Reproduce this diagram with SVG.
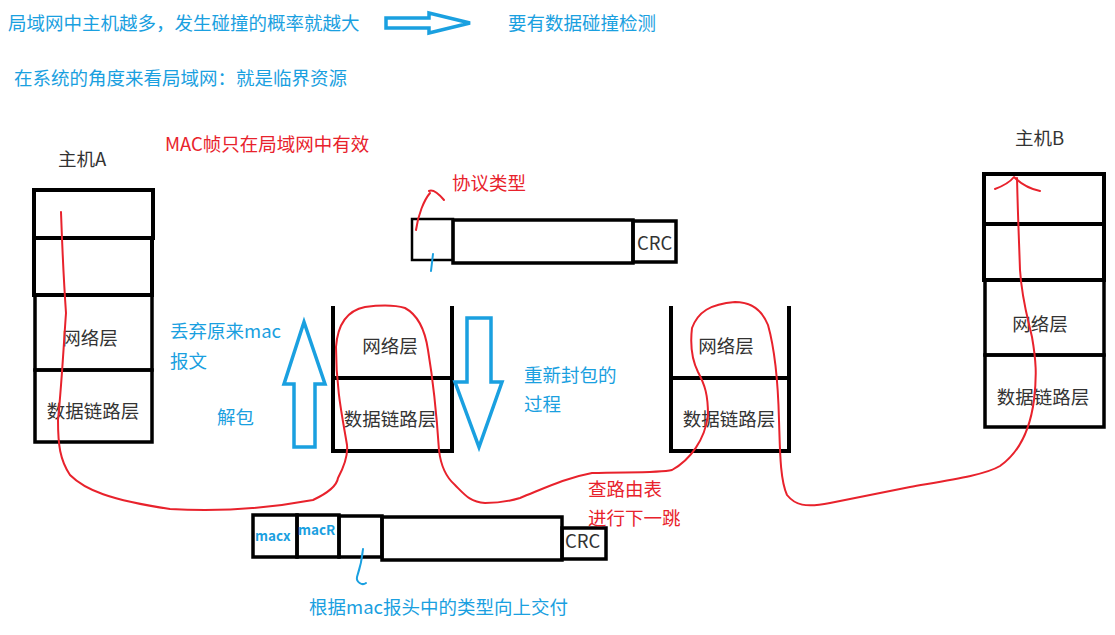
<svg xmlns="http://www.w3.org/2000/svg" width="1115" height="635" viewBox="0 0 1115 635">
  <style>
    text { font-family: "Microsoft YaHei", "Noto Sans CJK SC", "Noto Sans", sans-serif; font-size: 18.5px; }
    .blue { fill: #1aa0e0; }
    .red { fill: #e8222c; }
    .dark { fill: #333333; }
    .mid { text-anchor: middle; }
    .box { fill: none; stroke: #000; stroke-width: 4; }
    .boxthin { fill: none; stroke: #000; stroke-width: 3.5; }
    .hollow { fill: none; stroke: #1aa0e0; stroke-width: 3.5; stroke-linejoin: miter; }
    .path { fill: none; stroke: #e8222c; stroke-width: 2; stroke-linecap: round; stroke-linejoin: round; }
    .tick { fill: none; stroke: #1aa0e0; stroke-width: 2; stroke-linecap: round; }
    .small { font-size: 13.5px; font-weight: 600; }
  </style>

  <!-- notes at the top -->
  <g id="notes">
    <text class="blue" x="8" y="30">局域网中主机越多，发生碰撞的概率就越大</text>
    <text class="blue" x="508" y="30">要有数据碰撞检测</text>
    <text class="blue" x="14" y="85">在系统的角度来看局域网：就是临界资源</text>
    <text class="red" x="165" y="151" font-size="19.5">MAC帧只在局域网中有效</text>
    <polygon class="hollow" points="386,18 429,18 429,13 470,23 429,33 429,28 386,28" stroke-width="3"/>
  </g>

  <!-- host A stack -->
  <g id="hostA">
    <text class="dark" x="58" y="166" font-size="17.5">主机A</text>
    <rect class="box" x="34" y="190" width="119" height="48" stroke-width="5"/>
    <rect class="box" x="34" y="238" width="118" height="57" stroke-width="5"/>
    <rect class="boxthin" x="35" y="295" width="117" height="75"/>
    <rect class="boxthin" x="35" y="370" width="117" height="72"/>
    <text class="dark mid" x="90" y="345">网络层</text>
    <text class="dark mid" x="93" y="418">数据链路层</text>
  </g>

  <!-- router 1 -->
  <g id="router1">
    <polyline class="box" points="333,306 333,451 452,451 452,306"/>
    <line class="box" x1="333" y1="378" x2="452" y2="378"/>
    <text class="dark mid" x="390" y="353">网络层</text>
    <text class="dark mid" x="390" y="426">数据链路层</text>
  </g>

  <!-- router 2 -->
  <g id="router2">
    <polyline class="box" points="671,306 671,451 789,451 789,306"/>
    <line class="box" x1="671" y1="378" x2="789" y2="378"/>
    <text class="dark mid" x="726" y="353">网络层</text>
    <text class="dark mid" x="729" y="426">数据链路层</text>
  </g>

  <!-- host B stack -->
  <g id="hostB">
    <text class="dark" x="1015" y="145" font-size="17.5">主机B</text>
    <rect class="box" x="984" y="174" width="120" height="50" stroke-width="5"/>
    <rect class="box" x="984" y="224" width="120" height="56" stroke-width="4"/>
    <rect class="boxthin" x="985" y="280" width="119" height="75"/>
    <rect class="boxthin" x="985" y="355" width="119" height="72"/>
    <text class="dark mid" x="1040" y="331">网络层</text>
    <text class="dark mid" x="1043" y="404">数据链路层</text>
  </g>

  <!-- unpack / repack arrows and notes -->
  <g id="unpack">
    <polygon class="hollow" points="304,322 325,384 315,384 315,447 294,447 294,384 284,384"/>
    <text class="blue" x="170" y="338">丢弃原来mac</text>
    <text class="blue" x="170" y="368">报文</text>
    <text class="blue" x="217" y="424">解包</text>
  </g>
  <g id="repack">
    <polygon class="hollow" points="467,318 491,318 491,382 502,382 479,447 455,382 467,382"/>
    <text class="blue" x="524" y="382">重新封包的</text>
    <text class="blue" x="524" y="411">过程</text>
  </g>

  <!-- frame after decapsulation -->
  <g id="frameTop">
    <rect x="412" y="219" width="41" height="41" fill="none" stroke="#000" stroke-width="2.5"/>
    <rect class="boxthin" x="453" y="220" width="180" height="43"/>
    <rect class="boxthin" x="633" y="221" width="43" height="41"/>
    <text class="dark" x="637" y="250">CRC</text>
    <text class="red" x="452" y="190">协议类型</text>
    <path class="path" d="M416,230 C418,215 424,200 430,193"/>
    <path class="path" d="M429,191 C433,189 438,193 444,200"/>
    <path class="tick" d="M433,254 L431,271"/>
  </g>

  <!-- frame on the wire -->
  <g id="frameBottom">
    <rect class="boxthin" x="253" y="515" width="44" height="42"/>
    <rect class="boxthin" x="297" y="515" width="42" height="42"/>
    <rect class="boxthin" x="339" y="516" width="43" height="41"/>
    <rect class="boxthin" x="382" y="517" width="180" height="43"/>
    <rect class="boxthin" x="562" y="528" width="44" height="31"/>
    <text class="blue small" x="255" y="541">macx</text>
    <text class="blue small" x="298" y="535">macR</text>
    <text class="dark" x="565" y="548">CRC</text>
    <path class="tick" d="M363,549 C362,560 360,568 357,577 C356,582 362,586 366,583"/>
    <text class="blue" x="309" y="614">根据mac报头中的类型向上交付</text>
    <text class="red" x="588" y="496">查路由表</text>
    <text class="red" x="588" y="525">进行下一跳</text>
  </g>

  <!-- red route through the stacks -->
  <g id="connectors">
    <path class="path" d="M61,212 C62,240 63,270 66,313 C64,340 62,380 58,420 C58,445 60,460 70,475 C85,490 110,500 170,509 C220,512 270,508 313,500 C330,492 337,485 338,478 C345,465 348,455 347,445 C343,420 336,390 336,347 C338,320 350,310 365,307 C380,305 395,305 405,308 C418,315 425,330 428,350 C433,380 437,420 439,450 C441,468 447,478 455,485 C465,495 470,502 485,503 C500,503 510,501 520,498 C545,488 565,478 592,473 C630,472 660,473 672,470 C690,460 705,440 708,415 C708,395 705,385 698,372 C692,360 690,345 692,328 C698,312 710,304 735,302 C752,302 762,310 768,325 C775,350 778,380 779,420 C780,450 780,480 787,495 C795,505 805,508 830,503 C860,497 880,493 910,487 C950,480 985,475 1000,466 C1020,452 1030,430 1034,400 C1037,375 1036,360 1032,337 C1027,315 1022,300 1020,270 C1019,240 1018,220 1017,178"/>
    <path class="path" d="M995,189 C1003,186 1010,182 1014,177 C1020,183 1030,189 1040,191"/>
  </g>
</svg>
